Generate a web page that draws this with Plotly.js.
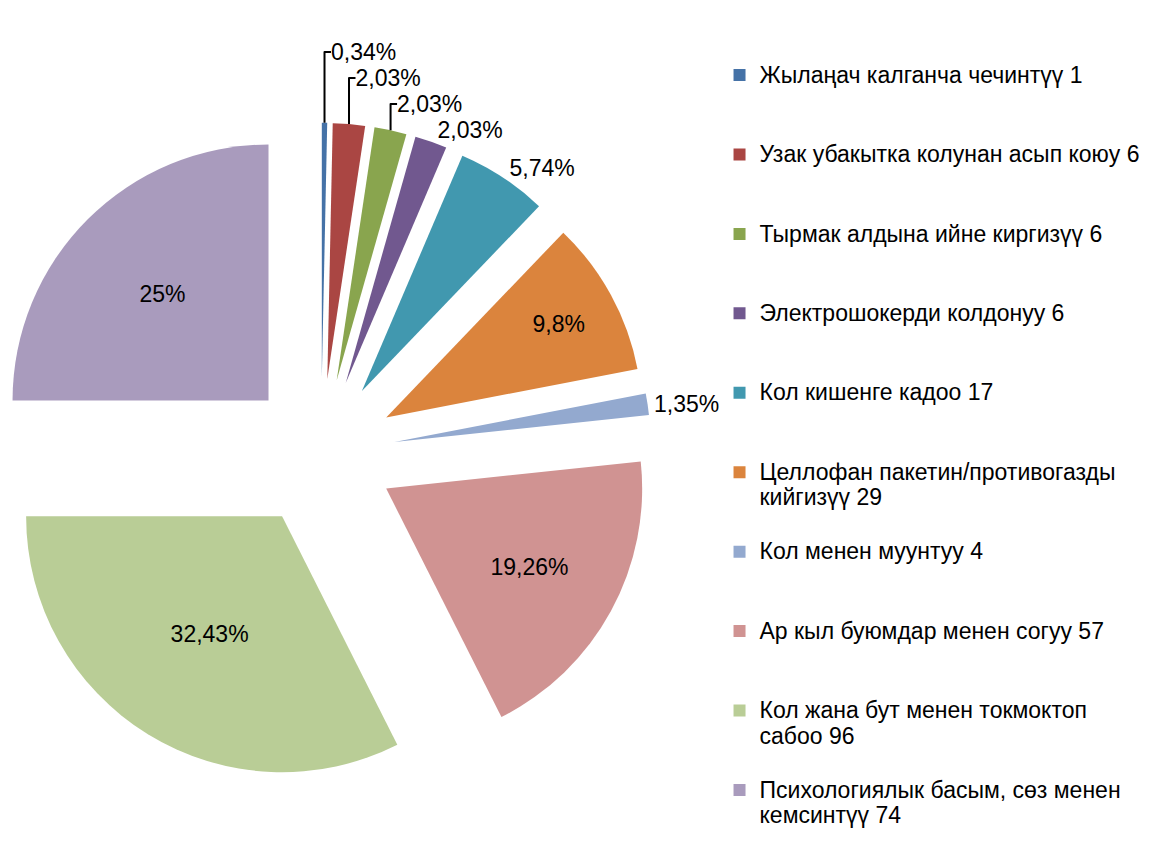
<!DOCTYPE html>
<html><head><meta charset="utf-8">
<script src="https://cdn.plot.ly/plotly-3.0.1.min.js"></script>
<style>html,body{margin:0;padding:0;overflow:hidden;background:#fff}#chart{position:absolute;left:-20px;top:0;width:1184px;height:844px}</style>
</head><body><div id="chart"></div>
<script>
const categories = [
  "Жылаңач калганча чечинтүү",
  "Узак убакытка колунан асып коюу",
  "Тырмак алдына ийне киргизүү",
  "Электрошокерди колдонуу",
  "Кол кишенге кадоо",
  "Целлофан пакетин/противогазды кийгизүү",
  "Кол менен муунтуу",
  "Ар кыл буюмдар менен согуу",
  "Кол жана бут менен токмоктоп сабоо",
  "Психологиялык басым, сөз менен кемсинтүү"
];
const counts = [1, 6, 6, 6, 17, 29, 4, 57, 96, 74];

const sliceColors = ["#4572A7","#AA4643","#89A54E","#71588F","#4198AF","#DB843D","#93A9CF","#D09392","#B9CD96","#A99BBD"];
const textPlacement = ["outside","outside","outside","outside","outside","inside","outside","inside","inside","inside"];
const FONT = "Liberation Sans, Arial, sans-serif";

const total = counts.reduce((a, b) => a + b, 0);
const pctText = counts.map(v => {
  let s = (v / total * 100).toFixed(2).replace(/\.?0+$/, "");
  return s.replace(".", ",") + "%";
});

function wrap(s, max) {
  const words = s.split(" ");
  const lines = [];
  let cur = "";
  words.forEach(w => {
    if (cur && (cur + " " + w).length > max) { lines.push(cur); cur = w; }
    else cur = cur ? cur + " " + w : w;
  });
  if (cur) lines.push(cur);
  return lines;
}
const legendLabels = categories.map((c, i) => {
  const lines = wrap(c + " " + counts[i], 33);
  const want = i < categories.length - 1 ? 3 : lines.length;
  while (lines.length < want) lines.push("\u00a0");
  return lines.map(l => '<span style="font-size:23px">' + l + '</span>').join("<br>");
});

const trace = {
  type: "pie",
  labels: legendLabels,
  values: counts,
  text: pctText,
  textinfo: "text",
  hoverinfo: "label+value+percent",
  sort: false,
  direction: "clockwise",
  rotation: 0,
  pull: 0.29,
  marker: { colors: sliceColors, line: { width: 0 } },
  textposition: textPlacement,
  insidetextorientation: "horizontal",
  textfont: { family: FONT, size: 23, color: "#000000" },
  outsidetextfont: { family: FONT, size: 23, color: "#000000" },
  domain: { x: [0.00912, 0.5669], y: [0.0720, 0.8545] }
};

const layout = {
  width: 1184, height: 844,
  margin: { l: 0, r: 0, t: 0, b: 0 },
  paper_bgcolor: "#ffffff",
  showlegend: true,
  font: { family: FONT, color: "#000000" },
  legend: {
    x: 0.6246, xanchor: "left", y: 0.9339, yanchor: "top",
    valign: "top",
    font: { family: FONT, size: 19.6, color: "#000000" },
    bgcolor: "rgba(0,0,0,0)", borderwidth: 0
  }
};

Plotly.newPlot("chart", [trace], layout, { displayModeBar: false, staticPlot: true });
</script>
</body></html>
